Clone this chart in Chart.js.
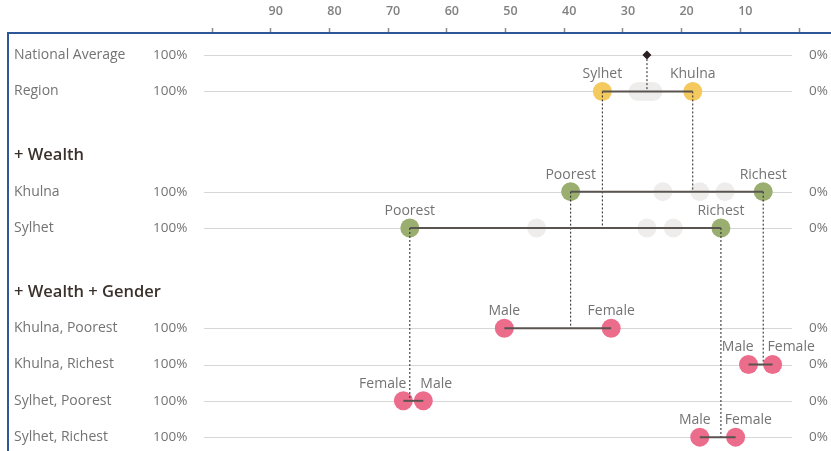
<!DOCTYPE html>
<html>
<head>
<meta charset="utf-8">
<script src="https://cdn.jsdelivr.net/npm/chart.js@4/dist/chart.umd.min.js"></script>
<style>
  body { margin: 0; background: #fff; }
  #wrap { width: 831px; height: 451px; position: relative; }
</style>
</head>
<body>
<div id="wrap"><canvas id="dotChart"></canvas></div>
<script>
// Rows (top to bottom) and their position on the y scale
const rowNames = ["National Average", "Region", "Khulna", "Sylhet",
    "Khulna, Poorest", "Khulna, Richest", "Sylhet, Poorest", "Sylhet, Richest"];
const rowPos = [0, 1, 3.76, 4.76, 7.52, 8.52, 9.52, 10.52];
const sectionNames = ["+ Wealth", "+ Wealth + Gender"];
const sectionPos = [2.76, 6.52];
const leftLabel = "100%";
const rightLabel = "0%";
const xTicks = [0, 10, 20, 30, 40, 50, 60, 70, 80, 90, 100];

// Values
const nationalAverage = 25.9;
const regionNames = ["Sylhet", "Khulna"];
const regionValues = [33.5, 18.1];
const otherRegions = [27.4, 26.8, 26.1, 25.5, 24.9];
const wealthNames = ["Poorest", "Richest"];
const khulnaWealth = [38.9, 6.1];
const sylhetWealth = [66.3, 13.3];
const khulnaMiddle = [23.2, 16.9, 12.6];
const sylhetMiddle = [44.7, 25.9, 21.4];
const genderNames = ["Male", "Female"];
const khulnaPoorestGender = [50.2, 32.0];
const khulnaRichestGender = [8.6, 4.5];
const sylhetPoorestGender = [64.0, 67.4];
const sylhetRichestGender = [16.9, 10.8];

const YELLOW = "#f4ca5e", GREEN = "#9aae6f", PINK = "#ec6c8c", GHOST = "#efedeb";
const TEXT = "#737373";

// helpers
const pair = (vals, row) => vals.map(v => ({ x: v, y: rowPos[row] }));

const pairs = [
    { vals: regionValues, row: 1, names: regionNames, color: YELLOW },
    { vals: khulnaWealth, row: 2, names: wealthNames, color: GREEN },
    { vals: sylhetWealth, row: 3, names: wealthNames, color: GREEN },
    { vals: khulnaPoorestGender, row: 4, names: genderNames, color: PINK },
    { vals: khulnaRichestGender, row: 5, names: genderNames, color: PINK },
    { vals: sylhetPoorestGender, row: 6, names: genderNames, color: PINK },
    { vals: sylhetRichestGender, row: 7, names: genderNames, color: PINK }
];

// dotted drop lines: value, from row, to row
const drops = [
    [nationalAverage, 0, 1],
    [regionValues[0], 1, 3],
    [regionValues[1], 1, 2],
    [khulnaWealth[0], 2, 4],
    [khulnaWealth[1], 2, 5],
    [sylhetWealth[0], 3, 6],
    [sylhetWealth[1], 3, 7]
];

const datasets = [];

// national average diamond
datasets.push({
    data: [{ x: nationalAverage, y: rowPos[0] }],
    pointStyle: "rectRot", pointRadius: 4.5,
    backgroundColor: "#2a2020", borderWidth: 0, order: 0, clip: false
});

// dumbbell lines
pairs.forEach(p => {
    datasets.push({
        data: pair(p.vals, p.row), showLine: true, clip: false,
        borderColor: "#5a5450", borderWidth: 2, pointRadius: 0, order: 1
    });
});

// dotted connectors
drops.forEach(d => {
    datasets.push({
        data: [{ x: d[0], y: rowPos[d[1]] }, { x: d[0], y: rowPos[d[2]] }],
        showLine: true, borderColor: "#222", borderWidth: 1, clip: false,
        borderDash: [2, 2], pointRadius: 0, order: 2
    });
});

// coloured circles
pairs.forEach(p => {
    datasets.push({
        data: pair(p.vals, p.row), pointLabels: p.names, clip: false,
        backgroundColor: p.color, borderWidth: 0, pointRadius: 9.5, order: 3
    });
});

// ghost circles
datasets.push({
    data: otherRegions.map(v => ({ x: v, y: rowPos[1] }))
        .concat(khulnaMiddle.map(v => ({ x: v, y: rowPos[2] })))
        .concat(sylhetMiddle.map(v => ({ x: v, y: rowPos[3] }))),
    backgroundColor: GHOST, borderWidth: 0, pointRadius: 9.5, order: 4, clip: false
});

// frame, row lines and side labels
const framePlugin = {
    id: "frame",
    beforeDatasetsDraw(chart) {
        const { ctx, scales: { x, y } } = chart;
        ctx.save();
        ctx.strokeStyle = "#d7d7d7";
        ctx.lineWidth = 1;
        rowPos.forEach(r => {
            const py = Math.round(y.getPixelForValue(r)) + 0.5;
            ctx.beginPath();
            ctx.moveTo(x.left - 8, py);
            ctx.lineTo(x.right - 7, py);
            ctx.stroke();
        });
        ctx.restore();
    },
    afterDraw(chart) {
        const { ctx, scales: { y } } = chart;
        ctx.save();
        // blue frame
        ctx.strokeStyle = "#2e5797";
        ctx.lineWidth = 2;
        ctx.beginPath();
        ctx.moveTo(831, 33);
        ctx.lineTo(8, 33);
        ctx.lineTo(8, 451);
        ctx.stroke();

        ctx.textBaseline = "middle";
        ctx.fillStyle = TEXT;
        ctx.textAlign = "left";
        rowNames.forEach((name, i) => {
            const py = y.getPixelForValue(rowPos[i]);
            ctx.font = "14px 'Open Sans'";
            ctx.fillText(name, 14, py);
            ctx.font = "13.5px 'Open Sans'";
            ctx.fillText(leftLabel, 153, py);
            ctx.fillText(rightLabel, 809, py);
        });
        ctx.font = "600 16.5px 'Open Sans'";
        ctx.fillStyle = "#3a302c";
        sectionNames.forEach((name, i) => {
            ctx.fillText(name, 14, y.getPixelForValue(sectionPos[i]));
        });
        ctx.restore();
    }
};

// labels over the circles, pushed apart when they would overlap
const labelPlugin = {
    id: "pointLabels",
    afterDatasetsDraw(chart) {
        const ctx = chart.ctx;
        ctx.save();
        ctx.font = "14px 'Open Sans'";
        ctx.fillStyle = TEXT;
        ctx.textBaseline = "middle";
        chart.data.datasets.forEach((ds, i) => {
            if (!ds.pointLabels) return;
            const pts = chart.getDatasetMeta(i).data;
            let items = pts.map((p, k) => ({ x: p.x, y: p.y, t: ds.pointLabels[k] }));
            items.sort((a, b) => a.x - b.x);
            const [a, b] = items;
            const wa = ctx.measureText(a.t).width, wb = ctx.measureText(b.t).width;
            const gap = (b.x - wb / 2) - (a.x + wa / 2);
            if (gap < 14) {
                const mid = (a.x + b.x) / 2;
                ctx.textAlign = "right";
                ctx.fillText(a.t, mid - 7, a.y - 17);
                ctx.textAlign = "left";
                ctx.fillText(b.t, mid + 7, b.y - 17);
            } else {
                ctx.textAlign = "center";
                ctx.fillText(a.t, a.x, a.y - 17);
                ctx.fillText(b.t, b.x, b.y - 17);
            }
        });
        ctx.restore();
    }
};

new Chart(document.getElementById("dotChart"), {
    type: "scatter",
    data: { datasets: datasets },
    options: {
        responsive: true,
        maintainAspectRatio: false,
        animation: false,
        events: [],
        layout: { padding: { left: 212, right: 32, top: 0, bottom: 0 } },
        plugins: { legend: { display: false }, tooltip: { enabled: false } },
        scales: {
            x: {
                position: "top",
                reverse: true,
                min: 0,
                max: 100,
                afterBuildTicks: s => { s.ticks = xTicks.map(v => ({ value: v })); },
                afterFit: s => { s.height = 33; },
                border: { display: false },
                grid: { drawOnChartArea: false, drawTicks: true, tickLength: 5,
                        tickColor: "#8a8a8a", tickWidth: 1.5 },
                ticks: {
                    padding: 9,
                    labelOffset: 5,
                    color: "#808080",
                    font: { family: "Open Sans", size: 12.5, weight: "600" },
                    callback: v => (v === 0 || v === 100) ? "" : v
                }
            },
            y: {
                display: false,
                reverse: true,
                min: -0.609,
                max: 10.64
            }
        }
    },
    plugins: [framePlugin, labelPlugin]
});
</script>
</body>
</html>
